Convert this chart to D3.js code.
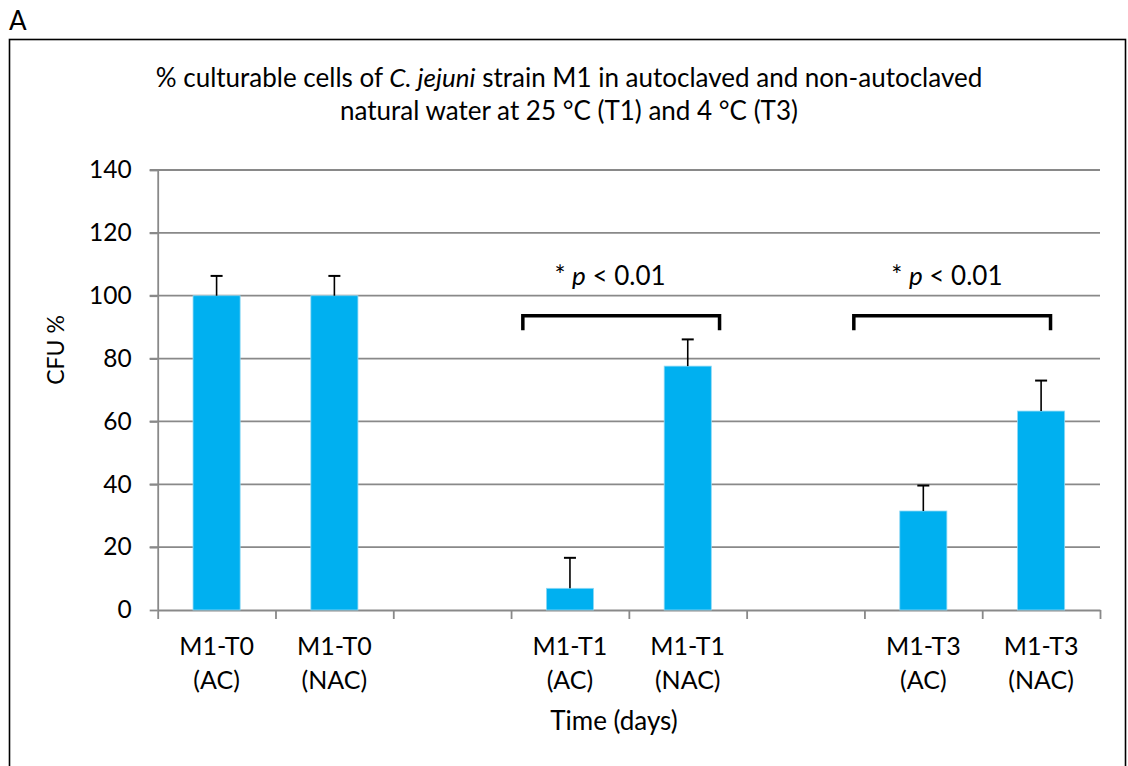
<!DOCTYPE html>
<html>
<head>
<meta charset="utf-8">
<script src="https://cdn.jsdelivr.net/npm/d3@7"></script>
<style>
  html, body { margin: 0; padding: 0; background: #fff; }
  svg text { font-family: Lato, "Open Sans", sans-serif; fill: #000; }
</style>
</head>
<body>
<svg id="chart" width="1128" height="766"></svg>
<script>
// categories (blank slots are the gaps between the time points)
const categoryTop = ['M1-T0', 'M1-T0', '', 'M1-T1', 'M1-T1', '', 'M1-T3', 'M1-T3'];
const categoryBottom = ['(AC)', '(NAC)', '', '(AC)', '(NAC)', '', '(AC)', '(NAC)'];
const cfuValues = [100, 100, null, 6.9, 77.6, null, 31.5, 63.3];
const cfuErrors = [6.3, 6.3, null, 9.7, 8.5, null, 8.1, 9.7];
const yTicks = [0, 20, 40, 60, 80, 100, 120, 140];

// significance brackets, positions in category-index units
const brackets = [
  { from: 3.10, to: 4.77, y: 93.6, drop: 4.6, labelX: 3.84, labelY: 103.5 },
  { from: 5.91, to: 7.58, y: 93.6, drop: 4.6, labelX: 6.70, labelY: 103.5 }
];

const margin = { top: 170, right: 28, bottom: 156, left: 157.7 };
const W = 1128, H = 766;

const svg = d3.select('#chart');

svg.append('rect').attr('width', W).attr('height', H).attr('fill', '#fff');

svg.append('text')
  .attr('x', 9).attr('y', 30)
  .style('font-size', '26px')
  .text('A');

// chart frame (runs off the bottom)
svg.append('rect')
  .attr('x', 9.5).attr('y', 39.5)
  .attr('width', 1116).attr('height', 800)
  .attr('fill', 'none')
  .attr('stroke', '#000')
  .attr('stroke-width', 1.6);

// title
const title = svg.append('text')
  .attr('text-anchor', 'middle')
  .style('font-size', '26px');
const t1 = title.append('tspan').attr('x', 569).attr('y', 87);
t1.append('tspan').text('% culturable cells of ');
t1.append('tspan').style('font-style', 'italic').text('C. jejuni');
t1.append('tspan').text(' strain M1 in autoclaved and non-autoclaved');
title.append('tspan').attr('x', 569).attr('y', 120)
  .text('natural water at 25 °C (T1) and 4 °C (T3)');

const x0 = margin.left, x1 = W - margin.right;
const y0 = H - margin.bottom, y1 = margin.top;

const x = d3.scaleBand()
  .domain(d3.range(categoryTop.length))
  .range([x0, x1])
  .paddingInner(0.6)
  .paddingOuter(0.3);

const xi = d3.scaleLinear().domain([0, categoryTop.length]).range([x0, x1]);

const y = d3.scaleLinear().domain([0, 140]).range([y0, y1]);

const gridColor = '#898989';

// gridlines
svg.append('g')
  .selectAll('line')
  .data(yTicks.filter(d => d > 0))
  .join('line')
  .attr('x1', x0 - 8).attr('x2', x1)
  .attr('y1', d => y(d)).attr('y2', d => y(d))
  .attr('stroke', gridColor)
  .attr('stroke-width', 1.8);

// y axis
const gy = svg.append('g')
  .attr('transform', `translate(${x0},0)`)
  .call(d3.axisLeft(y).tickValues(yTicks).tickSize(8).tickSizeOuter(0).tickPadding(18));
gy.select('.domain').attr('stroke', gridColor).attr('stroke-width', 1.8);
gy.selectAll('.tick line').attr('stroke', gridColor).attr('stroke-width', 1.8);
gy.selectAll('.tick text')
  .attr('fill', '#000')
  .style('font-size', '24.5px')
  .style('font-family', 'Lato, sans-serif');

// x axis with ticks on category boundaries
const gx = svg.append('g')
  .attr('transform', `translate(0,${y0})`)
  .call(d3.axisBottom(xi).tickValues(d3.range(categoryTop.length + 1))
    .tickSize(9).tickSizeOuter(0).tickFormat(''));
gx.select('.domain').attr('stroke', gridColor).attr('stroke-width', 1.8);
gx.selectAll('.tick line').attr('stroke', gridColor).attr('stroke-width', 1.8);

const barData = cfuValues.map((v, i) => ({ i, v, e: cfuErrors[i] })).filter(d => d.v !== null);

// bars
svg.append('g')
  .selectAll('rect')
  .data(barData)
  .join('rect')
  .attr('x', d => x(d.i))
  .attr('width', x.bandwidth())
  .attr('y', d => y(d.v))
  .attr('height', d => y(0) - y(d.v))
  .attr('fill', '#00B0F0')
  .attr('stroke', '#8fd9f5')
  .attr('stroke-width', 0.8);

// error bars (upper only)
const err = svg.append('g').attr('stroke', '#000');
err.selectAll('line.stem')
  .data(barData)
  .join('line')
  .attr('class', 'stem')
  .attr('x1', d => x(d.i) + x.bandwidth() / 2)
  .attr('x2', d => x(d.i) + x.bandwidth() / 2)
  .attr('y1', d => y(d.v))
  .attr('y2', d => y(d.v + d.e))
  .attr('stroke-width', 1.6);
err.selectAll('line.cap')
  .data(barData)
  .join('line')
  .attr('class', 'cap')
  .attr('x1', d => x(d.i) + x.bandwidth() / 2 - 6)
  .attr('x2', d => x(d.i) + x.bandwidth() / 2 + 6)
  .attr('y1', d => y(d.v + d.e))
  .attr('y2', d => y(d.v + d.e))
  .attr('stroke-width', 2);

// category labels
const lab = svg.append('g').attr('text-anchor', 'middle').style('font-size', '25px');
lab.selectAll('text.top')
  .data(categoryTop.map((t, i) => ({ t, i })).filter(d => d.t))
  .join('text')
  .attr('class', 'top')
  .attr('x', d => x(d.i) + x.bandwidth() / 2)
  .attr('y', 655)
  .text(d => d.t);
lab.selectAll('text.bottom')
  .data(categoryBottom.map((t, i) => ({ t, i })).filter(d => d.t))
  .join('text')
  .attr('class', 'bottom')
  .attr('x', d => x(d.i) + x.bandwidth() / 2)
  .attr('y', 689)
  .text(d => d.t);

svg.append('text')
  .attr('x', 614).attr('y', 730)
  .attr('text-anchor', 'middle')
  .style('font-size', '26px')
  .text('Time (days)');

svg.append('text')
  .attr('transform', 'translate(64,350) rotate(-90)')
  .attr('text-anchor', 'middle')
  .style('font-size', '23px')
  .text('CFU %');

// significance brackets
const br = svg.append('g');
br.selectAll('path')
  .data(brackets)
  .join('path')
  .attr('d', d => `M${xi(d.from)},${y(d.y - d.drop)}V${y(d.y)}H${xi(d.to)}V${y(d.y - d.drop)}`)
  .attr('fill', 'none')
  .attr('stroke', '#000')
  .attr('stroke-width', 3.5);
const pt = br.selectAll('text')
  .data(brackets)
  .join('text')
  .attr('x', d => xi(d.labelX))
  .attr('y', d => y(d.labelY))
  .attr('text-anchor', 'middle')
  .style('font-size', '26px');
pt.append('tspan').text('* ');
pt.append('tspan').style('font-style', 'italic').text('p');
pt.append('tspan').text(' < 0.01');
</script>
</body>
</html>
